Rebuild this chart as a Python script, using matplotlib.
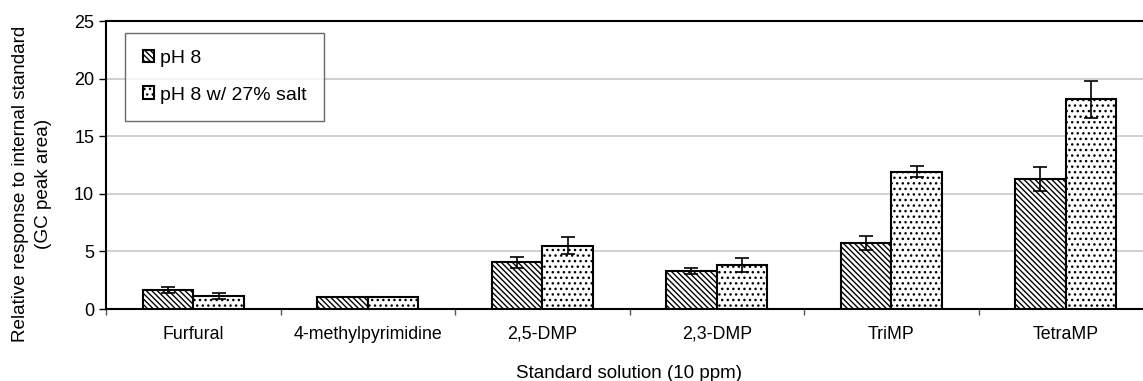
import matplotlib.pyplot as plt
import numpy as np

plt.rcParams['font.family'] = ['Liberation Sans', 'DejaVu Sans']
plt.rcParams['hatch.linewidth'] = 1.0

categories = ['Furfural', '4-methylpyrimidine', '2,5-DMP', '2,3-DMP', 'TriMP', 'TetraMP']
ph8 = [1.65, 1.0, 4.05, 3.3, 5.73, 11.28]
ph8_err = [0.25, 0.0, 0.5, 0.25, 0.6, 1.05]
salt = [1.15, 1.0, 5.5, 3.82, 11.92, 18.2]
salt_err = [0.25, 0.0, 0.75, 0.65, 0.5, 1.6]

fig = plt.figure(figsize=(11.43, 3.81), dpi=100)
ax = fig.add_axes([106 / 1143, 1 - 309 / 381, (1153 - 106) / 1143, (309 - 21) / 381])

x = np.arange(len(categories))
w = 0.29
ax.bar(x - w / 2, ph8, w, color='white', edgecolor='black', linewidth=1.5,
       hatch='\\\\\\\\\\\\', label='pH 8', zorder=3)
ax.bar(x + w / 2, salt, w, color='white', edgecolor='black', linewidth=1.5,
       hatch='...', label='pH 8 w/ 27% salt', zorder=3)
ax.errorbar(x - w / 2, ph8, yerr=ph8_err, fmt='none', ecolor='black',
            elinewidth=1.2, capsize=5, capthick=1.2, zorder=4)
ax.errorbar(x + w / 2, salt, yerr=salt_err, fmt='none', ecolor='black',
            elinewidth=1.2, capsize=5, capthick=1.2, zorder=4)

ax.set_xlim(-0.5, len(categories) - 0.5)
ax.set_ylim(0, 25)
ax.set_yticks([0, 5, 10, 15, 20, 25])
ax.yaxis.grid(True, color='#c8c8c8', linewidth=1.2, zorder=0)
ax.set_axisbelow(True)

ax.set_xticks(x)
ax.set_xticklabels(categories, fontsize=12.8)
ax.tick_params(axis='x', length=0, pad=12)
ax.set_xticks(np.arange(len(categories) + 1) - 0.5, minor=True)
ax.tick_params(axis='x', which='minor', length=4, width=1, color='#555555')
ax.tick_params(axis='y', labelsize=13, length=5, width=1)

for s in ax.spines.values():
    s.set_linewidth(1.5)
ax.spines['right'].set_visible(False)

ax.set_ylabel('Relative response to internal standard\n(GC peak area)', fontsize=13.6,
              linespacing=1.4)
ax.yaxis.set_label_coords(-0.052, 0.435)
ax.set_xlabel('Standard solution (10 ppm)', fontsize=13.5, labelpad=16)

leg = ax.legend(loc='upper left', bbox_to_anchor=(19 / 1047, 0.96), fontsize=14,
                frameon=True, fancybox=False, edgecolor='#444444', handlelength=0.6,
                handleheight=0.6, borderpad=0.9, labelspacing=1.0, handletextpad=0.3,
                borderaxespad=0)
leg.get_frame().set_linewidth(1.0)

fig.savefig('out.png', dpi=100)
